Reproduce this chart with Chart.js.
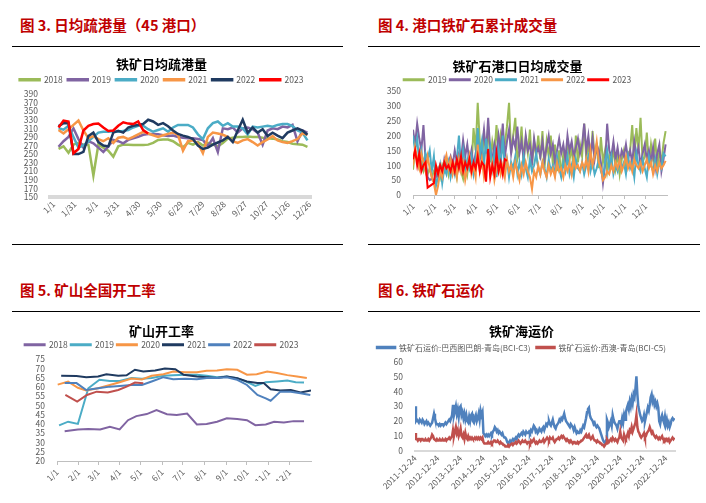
<!DOCTYPE html>
<html>
<head>
<meta charset="utf-8">
<script src="https://cdn.jsdelivr.net/npm/chart.js@4.4.0/dist/chart.umd.min.js"></script>
<style>
  body { margin: 0; background: #fff; font-family: "Noto Sans CJK SC", "Noto Sans", sans-serif; }
  .page { position: relative; width: 706px; height: 503px; overflow: hidden; }
  .head { position: absolute; color: #C00000; font-size: 14.5px; font-weight: 700; line-height: 18px; white-space: nowrap; }
  .rule { position: absolute; height: 1px; background: #000; }
  canvas { position: absolute; }
</style>
</head>
<body>
<div class="page">
  <div class="head" style="left:20px;top:16px">图 3. 日均疏港量（45 港口）</div>
  <div class="rule" style="left:12px;top:46px;width:331px"></div>
  <canvas id="portChart" width="332" height="185" style="left:12px;top:50px"></canvas>
  <div class="rule" style="left:12px;top:244px;width:331px"></div>

  <div class="head" style="left:378px;top:16px">图 4. 港口铁矿石累计成交量</div>
  <div class="rule" style="left:368px;top:46px;width:332px"></div>
  <canvas id="tradeChart" width="332" height="185" style="left:368px;top:50px"></canvas>
  <div class="rule" style="left:368px;top:244px;width:332px"></div>

  <div class="head" style="left:20px;top:281px">图 5. 矿山全国开工率</div>
  <div class="rule" style="left:12px;top:311px;width:331px"></div>
  <canvas id="mineChart" width="332" height="170" style="left:12px;top:316px"></canvas>

  <div class="head" style="left:378px;top:281px">图 6. 铁矿石运价</div>
  <div class="rule" style="left:368px;top:311px;width:332px"></div>
  <canvas id="freightChart" width="332" height="185" style="left:368px;top:316px"></canvas>
</div>

<script>
// ---- 图3 日均疏港量, weekly points (day 7, 14, ...)
const portTickLabels = ['1/1','1/31','3/1','3/31','4/30','5/30','6/29','7/29','8/28','9/27','10/27','11/26','12/26'];
const portTickDays = [0,30,60,90,120,150,180,210,240,270,300,330,360];
const port2018 = [262,268,253,272,276,272,272,200,272,265,258,244,268,272,272,271,271,271,272,276,283,284,284,280,272,266,276,272,278,270,276,272,268,276,286,288,290,290,291,290,290,288,287,286,284,280,278,274,273,272,267];
const port2019 = [267,280,290,310,285,265,280,275,265,255,268,283,280,275,283,287,290,295,297,297,296,294,292,293,290,288,287,287,285,283,268,287,255,310,308,312,300,310,312,308,300,272,305,310,308,314,312,318,280,305,300];
const port2020 = [310,307,316,290,265,270,280,290,300,302,302,303,302,304,306,312,316,316,308,302,306,310,302,312,318,318,318,312,296,285,310,322,326,316,322,314,314,310,296,314,312,314,316,314,318,320,320,315,305,300,282];
const port2021 = [306,298,308,318,328,305,287,292,285,280,287,276,288,290,285,290,296,302,298,294,290,294,297,300,295,258,280,282,275,252,290,300,298,295,290,280,276,282,285,278,270,278,284,292,282,278,276,280,285,298,295];
const port2022 = [315,322,322,250,250,255,292,300,278,270,268,300,304,300,312,316,318,320,330,326,318,322,315,305,297,293,290,285,270,262,265,272,277,282,290,278,305,330,300,312,300,308,292,300,293,287,300,305,310,305,295];
const port2023 = [312,328,326,252,262,305,316,320,321,312,304,305,316,324,321,320,326,306,298];

// ---- 图4 港口日均成交量, every 3 days from 1/1
const monthLabels = ['1/1','2/1','3/1','4/1','5/1','6/1','7/1','8/1','9/1','10/1','11/1','12/1'];
const monthDays = [0,31,59,90,120,151,181,212,243,273,304,334];
const trade2019 = [85,150,120,90,110,80,100,70,90,60,80, 70,90,60,100,80,110,70,120,90, 100,60,120,80,55,110,70,130,90,225,150, 310,180,120,200,150,230,110,180,140, 235,130,200,150,170,230,310,140,200,260,120, 150,230,110,190,140,220,100,180,130,200, 120,215,90,180,130,200,100,170,80,150, 60,140,100,190,120,160,80,200,110,170,130, 240,120,180,100,215,130,160,90,195, 110,150,80,130,100,160,90,140,70,120,150, 100,140,150,235,120,225,150,260,110, 130,210,100,170,120,190,90,150,110,175,215];
const trade2020 = [220,170,240,190,150,235,120,60,50,55,45, 60,80,100,70,120,90,110,130,100, 150,110,140,120,185,130,170,110,150,100,140, 180,120,160,220,140,260,150,120,170, 130,200,150,240,130,180,220,140,190,160,230, 140,180,120,200,150,170,110,190,140,160, 130,180,120,160,200,140,170,110,150,190, 140,170,120,200,150,180,130,160,190,140,170, 240,150,200,130,190,120,170,150,110, 40,100,240,150,130,180,120,160,110,150,130, 170,120,150,110,180,130,160,100,140, 170,120,150,110,160,90,140,170,80,120,170];
const trade2021 = [200,150,190,110,150,100,140,120,150,80,130, 30,60,100,40,90,70,110,60,100, 70,120,200,100,150,80,120,90,130,70,110, 225,130,180,100,190,120,160,90,140, 60,150,100,200,80,120,60,110,90,130,70, 110,70,130,90,60,120,80,100,140,90, 70,110,90,60,120,80,100,70,130,90, 60,110,80,130,70,100,60,120,90,80,110, 70,100,130,80,110,70,90,120,80, 60,110,150,90,130,70,100,80,120,90,110, 70,130,90,110,60,140,100,80,120, 90,60,130,100,80,120,70,110,90,140,130];
const trade2022 = [100,160,120,90,140,110,80,130,90,60,40, 0,30,80,60,110,135,90,120,70, 100,60,120,80,110,50,90,130,70,100,60, 170,80,120,60,100,130,70,110,50, 90,110,70,100,60,120,80,100,60,110,80, 50,100,70,110,80,60,20,80,60,100, 70,110,80,60,100,70,90,60,110,80, 90,60,100,80,110,70,120,90,100,80,110, 90,120,80,150,100,130,180,110,90, 50,60,80,70,100,80,110,90,120,80,100, 130,90,110,80,120,100,90,110,80, 100,120,90,110,70,100,80,110,90,100,115];
const trade2023 = [120,150,100,140,80,100,110,25,30,35,40, 100,70,100,80,110,90,100,80,110, 80,120,90,130,80,110,90,120,80,110,90, 130,80,110,100,45,155,60,100,70, 140,80,110,70,120,115];

// ---- 图5 矿山开工率 (day of year, %)
const days2018 = [11,30,45,62,76,90,102,114,129,143,158,172,187,201,215,230,244,259,273,285,300,312,326,340,355];
const rate2018 = [36.1,37,37.3,37,38.4,37,42,44.2,45.3,47.4,45.2,44.8,45.6,39.7,39.9,41.2,43,42.6,42,39.3,39.7,41.2,40.8,41.5,41.5];
const days2019 = [3,16,30,45,61,76,90,107,122,136,153,167,184,201,215,230,244,259,271,285,300,316,331,343,355];
const rate2019 = [39.2,41.2,40,59.2,63.8,63.2,63.2,64.7,64.3,64.7,66,66.3,66.5,66.5,66,65.2,65.6,64.7,62.9,60.5,62.5,62.9,63.4,62.5,62.3];
const days2020 = [1,16,30,42,59,76,90,107,122,136,153,167,184,201,215,230,244,259,273,287,302,316,331,345,359];
const rate2020 = [61.2,62.8,59.5,58,59.2,61,62.5,64.5,64,66,66.8,68.3,67.8,67.9,68.6,68.8,69.5,69.2,66.5,66.8,68.3,67.4,66.3,65.6,64.7];
const days2021 = [6,28,42,59,71,88,100,112,124,141,155,170,182,201,215,230,244,259,273,288,297,307,321,336,350,365];
const rate2021 = [66,65.8,65.2,65.6,66.8,66,66.2,69.2,68.3,68.8,69.9,69.5,66.5,65.6,65.2,64.7,65.6,64.7,62.9,62,62,58.7,58,58.3,56.9,58];
const days2022 = [11,28,42,59,76,90,107,122,136,153,167,184,201,215,230,244,259,273,288,300,307,321,336,350,364];
const rate2022 = [62,62,58.3,59.2,60.1,60.5,61,61,62.9,65.2,64.1,64.3,64.1,64.7,64.7,65.2,63.8,61,55.6,53.8,52.5,57.4,57.4,56.5,55.6];
const days2023 = [12,29,43,57,73,88,100,112,124];
const rate2023 = [55.6,52,55.6,57.4,56.9,58.3,60.1,62.3,61.9];

// ---- 图6 铁矿海运价, half-monthly from 2011-12-24
const freightTickLabels = ['2011-12-24','2012-12-24','2013-12-24','2014-12-24','2015-12-24','2016-12-24','2017-12-24','2018-12-24','2019-12-24','2020-12-24','2021-12-24','2022-12-24'];
const freightTickYears = [0,1,2,3,4,5,6,7,8,9,10,11];
const freightC3 = [
  30,20,21,20,19,21,20,19,21,20,18,19,20,18,19,18,17,18,19,22,25,22,19,18,
  18,17,18,17,18,18,17,18,19,18,19,20,21,20,22,24,31,24,27,30,25,28,23,29,
  30,24,26,22,25,21,24,20,19,23,20,24,25,20,19,22,24,20,22,25,21,27,24,26,
  12,11,10,11,10,11,10,11,12,11,13,14,16,15,13,14,12,13,12,11,12,10,9,9,
  8,6,5,6,7,6,7,8,7,8,9,8,10,11,10,11,12,11,13,12,11,13,12,12,
  13,12,14,13,15,17,16,13,14,12,13,15,14,13,15,16,14,16,18,17,19,20,18,17,
  19,21,18,16,15,17,18,19,21,20,22,21,23,25,22,20,19,18,17,16,18,17,16,14,
  16,14,12,13,12,12,14,13,15,17,16,19,22,26,28,29,24,22,21,20,18,19,17,16,
  17,16,15,13,11,9,7,6,5,7,21,19,16,18,20,17,24,21,19,18,17,15,18,20,
  20,18,22,19,24,21,26,29,31,28,33,30,35,32,38,36,42,50,38,30,27,24,22,20,
  21,24,20,23,26,29,27,31,36,38,33,35,31,33,30,32,29,20,18,22,24,21,19,23,
  18,21,17,19,16,18,21,22,21,22];
const freightC5 = [
  12,8,8,7,8,8,7,8,8,7,7,8,7,7,8,7,8,9,11,10,8,8,7,8,
  7,7,8,7,7,8,7,7,8,7,8,8,9,8,9,10,14,10,13,16,12,14,10,12,
  15,10,9,11,8,12,9,8,10,8,9,8,9,8,8,9,8,9,8,9,8,9,8,9,
  6,5,5,5,5,6,5,5,6,5,6,7,7,6,6,7,6,5,6,5,5,4,4,3,
  3,3,4,3,4,4,5,4,5,5,6,5,6,7,6,5,6,7,6,6,7,6,5,6,
  6,5,7,6,7,8,6,5,6,5,6,7,6,6,7,8,6,7,8,9,8,7,9,8,
  8,9,7,6,7,8,8,9,8,9,10,9,10,9,8,7,8,7,7,6,7,6,5,6,
  6,5,5,6,5,6,6,7,7,8,9,10,11,9,10,11,9,8,9,10,8,7,7,6,
  7,6,6,5,5,4,4,3,4,5,8,7,6,7,8,7,9,8,7,8,7,6,8,9,
  13,9,8,7,11,9,8,10,12,10,14,13,16,13,15,17,19,24,16,13,12,10,9,10,
  11,12,9,10,12,13,14,16,14,12,13,11,10,9,10,9,8,9,8,9,10,8,7,8,
  7,8,7,8,6,7,8,9,8,9];

Chart.defaults.font.family = '"Noto Sans CJK SC", "Noto Sans", sans-serif';
Chart.defaults.color = '#595959';

const series = (label, xs, ys, color, width, order) => ({
  label: label,
  data: ys.map((v, i) => ({ x: xs[i], y: v })),
  borderColor: color,
  backgroundColor: color,
  borderWidth: width,
  pointRadius: 0,
  tension: 0,
  order: order
});

const drawChart = (id, o) => {
  const ctx = document.getElementById(id).getContext('2d');
  return new Chart(ctx, {
    type: 'line',
    data: { datasets: o.datasets },
    options: {
      responsive: false,
      animation: false,
      layout: { padding: { left: 0, right: o.padRight, top: 0, bottom: o.padBottom } },
      plugins: {
        title: {
          display: true, text: o.title, color: '#000',
          font: { size: 13, weight: 'bold', lineHeight: 1 },
          padding: { top: o.titleTop, bottom: 0 }
        },
        legend: {
          maxHeight: o.legendHeight,
          labels: {
            boxWidth: o.boxWidth, boxHeight: 1, padding: o.legendPad, color: '#595959', font: { size: o.legendFont },
            // keep the series order, not the drawing order
            sort: (a, b) => a.datasetIndex - b.datasetIndex
          }
        },
        tooltip: { enabled: false }
      },
      scales: {
        x: {
          type: 'linear', min: o.xMin, max: o.xMax,
          afterBuildTicks: axis => { axis.ticks = o.xTicks.map(v => ({ value: v })); },
          afterFit: axis => { axis.height = o.xHeight; },
          ticks: {
            autoSkip: false, minRotation: 45, maxRotation: 45, padding: 2,
            color: '#595959', font: { size: 8.5 },
            callback: (v, i) => o.xLabels[i]
          },
          grid: o.xGrid,
          border: o.xBorder
        },
        y: {
          min: o.yMin, max: o.yMax,
          afterFit: axis => { axis.width = o.yWidth; },
          ticks: { stepSize: o.yStep, autoSkip: false, padding: 4, color: '#595959', font: { size: 8.5 } },
          grid: { display: false },
          border: { display: false }
        }
      }
    }
  });
};

const portDays = port2018.map((v, i) => 7 * (i + 1));
drawChart('portChart', {
  title: '铁矿日均疏港量',
  datasets: [
    series('2018', portDays, port2018, '#9BBB59', 2.5, 6),
    series('2019', portDays, port2019, '#8064A2', 2.5, 5),
    series('2020', portDays, port2020, '#4BACC6', 2.5, 4),
    series('2021', portDays, port2021, '#F79646', 2.5, 3),
    series('2022', portDays, port2022, '#1F3A60', 2.5, 2),
    series('2023', portDays, port2023, '#FF0000', 2.5, 1)
  ],
  xMin: -5, xMax: 362, xTicks: portTickDays, xLabels: portTickLabels,
  yMin: 150, yMax: 390, yStep: 20,
  xGrid: { display: false, drawTicks: false },
  xBorder: { display: true, color: '#D9D9D9', width: 4 },
  titleTop: 7.5, legendPad: 5, legendHeight: 24.5, boxWidth: 20, legendFont: 8.5,
  yWidth: 38, padRight: 33, xHeight: 30, padBottom: 8
});

const tradeDays = trade2019.map((v, i) => 3 * i);
drawChart('tradeChart', {
  title: '铁矿石港口日均成交量',
  datasets: [
    series('2019', tradeDays, trade2019, '#9BBB59', 2, 5),
    series('2020', tradeDays, trade2020, '#8064A2', 2, 4),
    series('2021', tradeDays, trade2021, '#4BACC6', 2, 3),
    series('2022', tradeDays, trade2022, '#F79646', 2, 2),
    series('2023', tradeDays, trade2023, '#FF0000', 2, 1)
  ],
  xMin: 0, xMax: 365, xTicks: monthDays, xLabels: monthLabels,
  yMin: 0, yMax: 350, yStep: 50,
  xGrid: { display: true, drawOnChartArea: false, drawTicks: true, tickLength: 4, color: '#BFBFBF' },
  xBorder: { display: true, color: '#BFBFBF', width: 1 },
  titleTop: 9.5, legendPad: 3, legendHeight: 18.5, boxWidth: 20, legendFont: 8.5,
  yWidth: 45, padRight: 33, xHeight: 30, padBottom: 10
});

drawChart('mineChart', {
  title: '矿山开工率',
  datasets: [
    series('2018', days2018, rate2018, '#8064A2', 2, 6),
    series('2019', days2019, rate2019, '#4BACC6', 2, 5),
    series('2020', days2020, rate2020, '#F79646', 2, 4),
    series('2021', days2021, rate2021, '#1F3A60', 2, 3),
    series('2022', days2022, rate2022, '#4F81BD', 2, 2),
    series('2023', days2023, rate2023, '#C0504D', 2, 1)
  ],
  xMin: 0, xMax: 365, xTicks: monthDays, xLabels: monthLabels,
  yMin: 20, yMax: 75, yStep: 5,
  xGrid: { display: true, drawOnChartArea: false, drawTicks: true, tickLength: 4, color: '#BFBFBF' },
  xBorder: { display: true, color: '#BFBFBF', width: 1 },
  titleTop: 8.5, legendPad: 3, legendHeight: 21.5, boxWidth: 20, legendFont: 8.5,
  yWidth: 45, padRight: 33, xHeight: 20, padBottom: 5
});

const freightYears = freightC3.map((v, i) => i / 24);
drawChart('freightChart', {
  title: '铁矿海运价',
  datasets: [
    series('铁矿石运价:巴西图巴朗-青岛(BCI-C3)', freightYears, freightC3, '#4F81BD', 2.5, 2),
    series('铁矿石运价:西澳-青岛(BCI-C5)', freightYears, freightC5, '#C0504D', 2.5, 1)
  ],
  xMin: 0, xMax: 11.4, xTicks: freightTickYears, xLabels: freightTickLabels,
  yMin: 0, yMax: 60, yStep: 10,
  xGrid: { display: false, drawTicks: false },
  xBorder: { display: true, color: '#D9D9D9', width: 2 },
  titleTop: 8.5, legendPad: 6, legendHeight: 25.5, boxWidth: 18, legendFont: 8,
  yWidth: 47, padRight: 25, xHeight: 48, padBottom: 2
});
</script>
</body>
</html>
